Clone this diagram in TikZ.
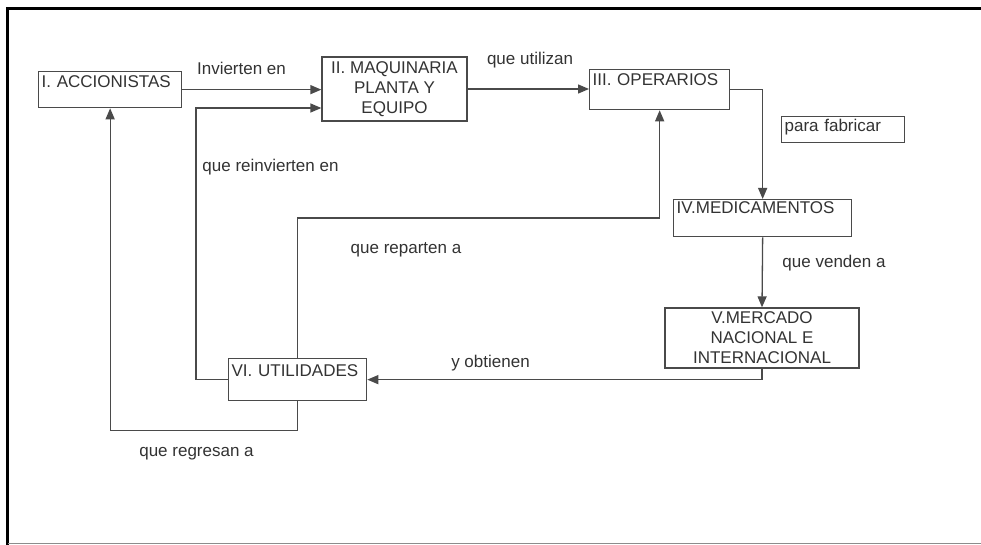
\documentclass[tikz,border=0pt]{standalone}
\usepackage{fontspec}
\setmainfont{Liberation Sans}
\usetikzlibrary{arrows.meta,calc}
\definecolor{linec}{HTML}{4A4A4A}
\definecolor{textc}{HTML}{333333}
\newcommand\labfont{\fontsize{17}{20}\selectfont}
\begin{document}
\begin{tikzpicture}[x=1pt,y=-1pt,
  every node/.style={font=\labfont, text=textc},
  tlbox/.style={draw=linec, line width=1.3pt, inner ysep=0pt, inner xsep=3pt,
    align=left, anchor=north west},
  cbox/.style={draw=linec, line width=1.3pt, inner sep=0pt, align=center},
  wire/.style={draw=linec, line width=1.3pt},
  arr/.style={wire, -{Triangle[length=11pt,width=9pt]}},
  lbl/.style={anchor=base, inner sep=0pt}]
\useasboundingbox (0,0) rectangle (981,545);
\fill[white] (0,0) rectangle (981,545);

% frame
\draw[line width=2.6pt, black] (7.5,545) -- (7.5,8.5) -- (981,8.5);
\draw[line width=1pt, black!45] (8,543.5) -- (981,543.5);

% boxes
\node[tlbox, text width=137pt, text height=16pt, text depth=20pt] (acc) at (38,71) {I. ACCIONISTAS};
\node[cbox, minimum width=145pt, minimum height=64pt] (maq) at (394.5,89)
  {II. MAQUINARIA\\PLANTA Y\\EQUIPO};
\node[tlbox, text width=134pt, text height=16pt, text depth=24pt] (op) at (589,69) {III. OPERARIOS};
\node[tlbox, text width=117pt, text height=15pt, text depth=11pt] (fab) at (781,116) {para fabricar};
\node[tlbox, text width=172pt, text height=14pt, text depth=23pt] (med) at (673,199) {IV.MEDICAMENTOS};
\node[cbox, minimum width=194pt, minimum height=60pt] (merc) at (762,338)
  {V.MERCADO\\NACIONAL E\\INTERNACIONAL};
\node[tlbox, text width=132pt, text height=18pt, text depth=24pt] (util) at (228,358) {VI. UTILIDADES};

% connectors
\coordinate (maqin) at ($(maq.west)+(0,19)$);
\draw[arr] (acc.east) -- (acc.east -| maq.west);
\draw[arr] (maq.east) -- (maq.east -| op.west);
\draw[arr] (op.east) -| (med.north);
\draw[arr] (med.south) -- (merc.north);
\draw[arr] (merc.south) |- (util.east);
\draw[arr] (util.west) -- ++(-32,0) |- (maqin);
\draw[arr] (util.north) -- ++(0,-140) -| (op.south);
\draw[arr] (util.south) -- ++(0,29) -| (acc.south);

% connector labels
\node[lbl] (l1) at (241.5,75) {Invierten en};
\node[lbl] (l2) at (530,65) {que utilizan};
\node[lbl] (l3) at (270.5,172) {que reinvierten en};
\node[lbl] (l4) at (406,253) {que reparten a};
\node[lbl] (l5) at (834,267) {que venden a};
\node[lbl] (l6) at (490.5,367) {y obtienen};
\node[lbl] (l7) at (196.5,456) {que regresan a};
\end{tikzpicture}
\end{document}
